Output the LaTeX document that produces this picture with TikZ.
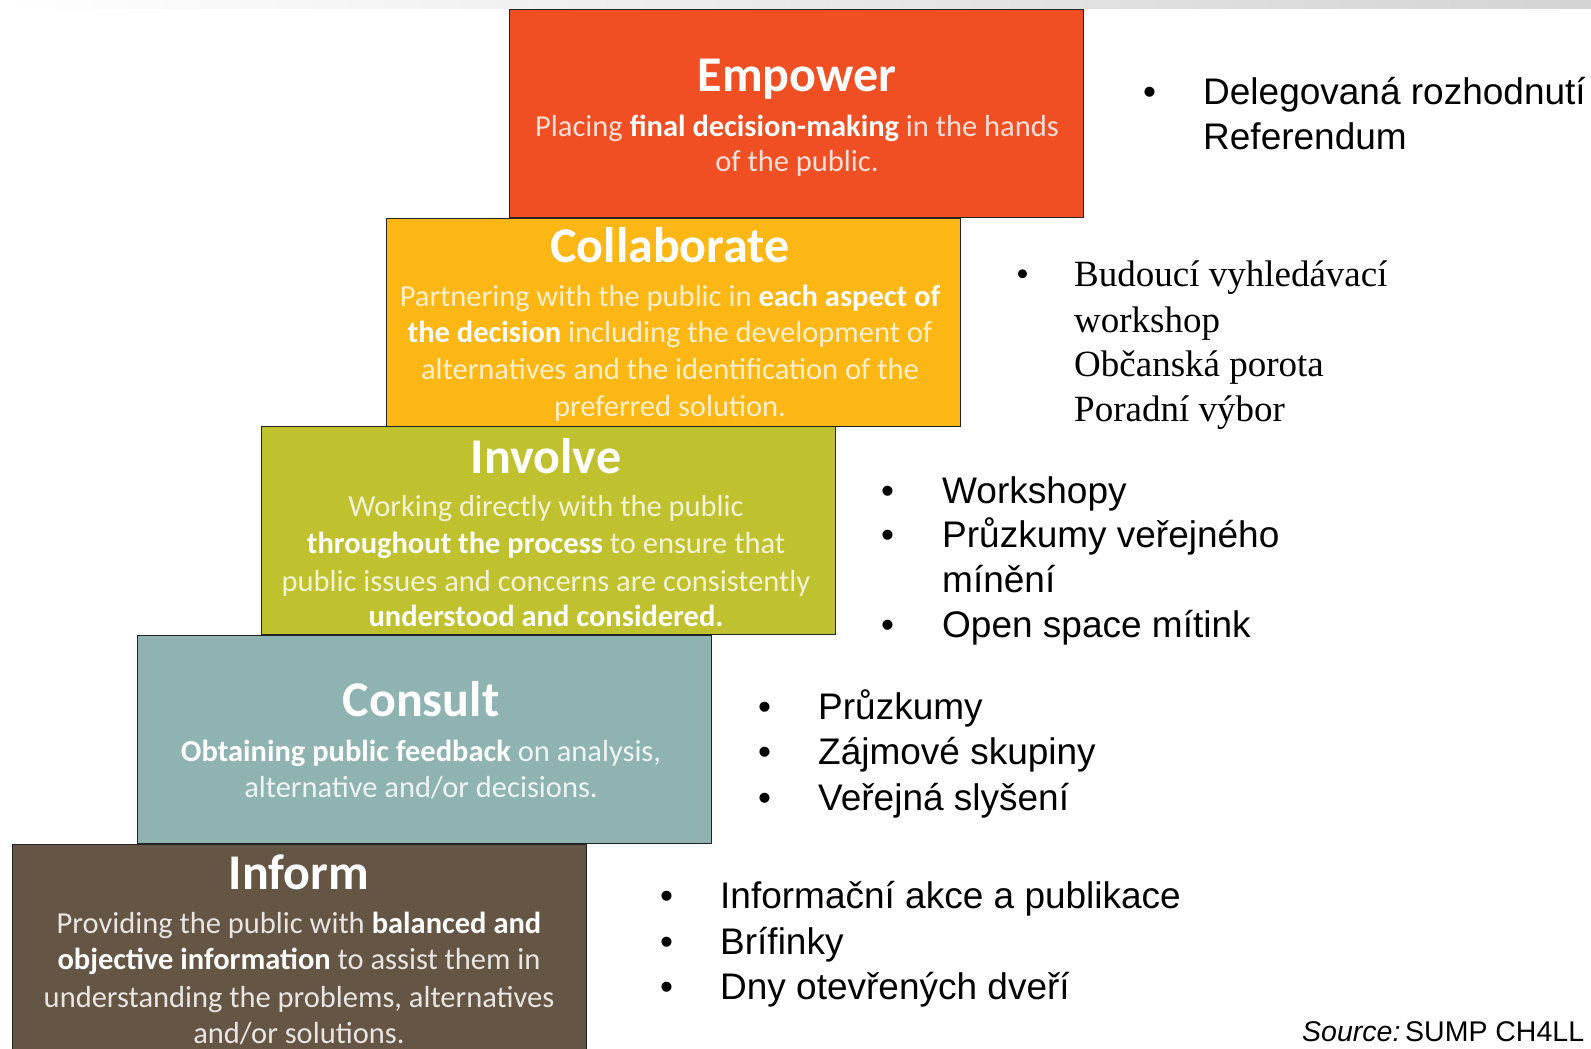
\documentclass[tikz,border=0pt]{standalone}
\usepackage{fontspec}
\setmainfont{Liberation Sans}
\newfontfamily\calfont{Carlito}
\newfontfamily\tmsfont{Liberation Serif}
\definecolor{cemp}{RGB}{240,78,35}
\definecolor{ccol}{RGB}{253,183,21}
\definecolor{cinv}{RGB}{191,194,46}
\definecolor{ccon}{RGB}{142,179,177}
\definecolor{cinf}{RGB}{101,85,68}
\definecolor{edge}{RGB}{35,35,35}
\tikzset{
  stepbox/.style={draw=edge, line width=1.4pt, anchor=north west, inner sep=0pt,
    minimum width=574, minimum height=208},
  ttl/.style={font=\calfont\fontsize{50}{58}\selectfont\bfseries, text=white, inner sep=0pt, anchor=base},
  bodyline/.style={font=\calfont\fontsize{30.5}{36}\selectfont, inner sep=0pt, anchor=base},
  listitem/.style={font=\fontsize{37}{44}\selectfont, inner sep=0pt, anchor=base west},
  seritem/.style={font=\tmsfont\fontsize{37}{44}\selectfont, inner sep=0pt, anchor=base west},
}
\begin{document}
\begin{tikzpicture}[x=1pt,y=-1pt]
\useasboundingbox (0,0) rectangle (1591,1049);
\fill[white] (0,0) rectangle (1591,1049);
\shade[left color=white, right color=black!17] (0,0) rectangle (1591,9);

% boxes
\node[stepbox, fill=cemp] (emp) at (509,9) {};
\node[stepbox, fill=ccol] (col) at (386,218) {};
\node[stepbox, fill=cinv] (inv) at (261,426) {};
\node[stepbox, fill=ccon] (con) at (137,635) {};
\node[stepbox, fill=cinf, minimum height=230] (inf) at (12,844) {};

% Empower text
\node[ttl] (empt) at (797,92) {Empower};
\node[bodyline, text=white!82!cemp] (emp1) at (797,136) {Placing \textbf{\color{white}final decision-making} in the hands};
\node[bodyline, text=white!82!cemp] (emp2) at (797,171) {of the public.};

% Collaborate text
\node[ttl] (colt) at (670,262) {Collaborate};
\node[bodyline, text=white!78!ccol] (col1) at (670,306) {Partnering with the public in \textbf{\color{white}each aspect of}};
\node[bodyline, text=white!78!ccol] (col2) at (670,342) {\textbf{\color{white}the decision} including the development of};
\node[bodyline, text=white!78!ccol] (col3) at (670,379) {alternatives and the identification of the};
\node[bodyline, text=white!78!ccol] (col4) at (670,416) {preferred solution.};

% Involve text
\node[ttl] (invt) at (546,473) {Involve};
\node[bodyline, text=white!80!cinv] (inv1) at (546,516) {Working directly with the public};
\node[bodyline, text=white!80!cinv] (inv2) at (546,553) {\textbf{\color{white}throughout the process} to ensure that};
\node[bodyline, text=white!80!cinv] (inv3) at (546,591) {public issues and concerns are consistently};
\node[bodyline, text=white!80!cinv] (inv4) at (546,626) {\textbf{\color{white}understood and considered.}};

% Consult text
\node[ttl] (cont) at (421,716) {Consult};
\node[bodyline, text=white!85!ccon] (con1) at (421,761) {\textbf{\color{white}Obtaining public feedback} on analysis,};
\node[bodyline, text=white!85!ccon] (con2) at (421,797) {alternative and/or decisions.};

% Inform text
\node[ttl] (inft) at (299,889) {Inform};
\node[bodyline, text=white!85!cinf] (inf1) at (299,933) {Providing the public with \textbf{\color{white}balanced and}};
\node[bodyline, text=white!85!cinf] (inf2) at (299,969) {\textbf{\color{white}objective information} to assist them in};
\node[bodyline, text=white!85!cinf] (inf3) at (299,1007) {understanding the problems, alternatives};
\node[bodyline, text=white!85!cinf] (inf4) at (299,1043) {and/or solutions.};

% Right lists
\node[listitem] (eb1) at (1143,104) {•};
\node[listitem] (el1) at (1203,104) {Delegovaná rozhodnutí};
\node[listitem] (el2) at (1203,149) {Referendum};

\node[seritem] (cb1) at (1016,286) {•};
\node[seritem] (cl1) at (1074,286) {Budoucí vyhledávací};
\node[seritem] (cl2) at (1074,332) {workshop};
\node[seritem] (cl3) at (1074,376) {Občanská porota};
\node[seritem] (cl4) at (1074,421) {Poradní výbor};

\node[listitem] (ib1) at (881,503) {•};
\node[listitem] (ib2) at (881,547) {•};
\node[listitem] (ib3) at (881,637) {•};
\node[listitem] (il1) at (942,503) {Workshopy};
\node[listitem] (il2) at (942,547) {Průzkumy veřejného};
\node[listitem] (il3) at (942,592) {mínění};
\node[listitem] (il4) at (942,637) {Open space mítink};

\node[listitem] (nb1) at (758,719) {•};
\node[listitem] (nb2) at (758,764) {•};
\node[listitem] (nb3) at (758,810) {•};
\node[listitem] (nl1) at (818,719) {Průzkumy};
\node[listitem] (nl2) at (818,764) {Zájmové skupiny};
\node[listitem] (nl3) at (818,810) {Veřejná slyšení};

\node[listitem] (fb1) at (660,908) {•};
\node[listitem] (fb2) at (660,954) {•};
\node[listitem] (fb3) at (660,999) {•};
\node[listitem] (fl1) at (720,908) {Informační akce a publikace};
\node[listitem] (fl2) at (720,954) {Brífinky};
\node[listitem] (fl3) at (720,999) {Dny otevřených dveří};

\node[font=\fontsize{28.5}{32}\selectfont, inner sep=0pt, anchor=base west] (src) at (1302,1041) {\textit{Source:}\,SUMP CH4LL};
\end{tikzpicture}
\end{document}
